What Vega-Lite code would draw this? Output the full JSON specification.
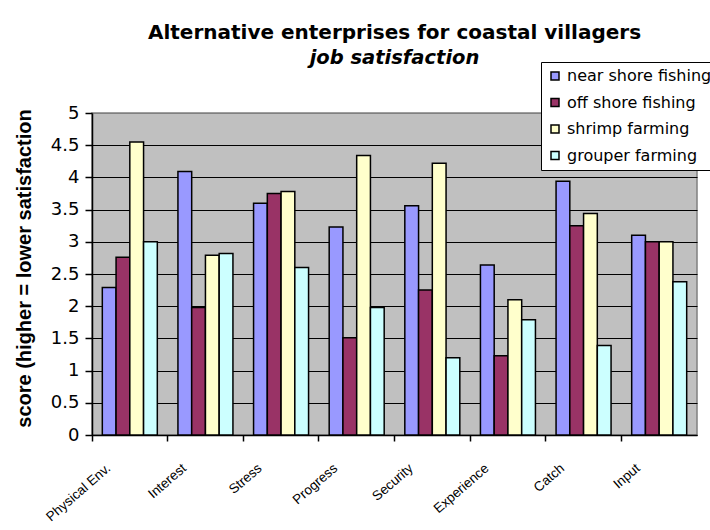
{
  "$schema": "https://vega.github.io/schema/vega-lite/v6.json",
  "width": 605,
  "height": 322,
  "autosize": {"type": "none"},
  "padding": {"left": 92, "top": 113, "right": 13, "bottom": 95},
  "background": "white",
  "title": {
    "text": "Alternative enterprises for coastal villagers",
    "subtitle": "job satisfaction",
    "font": "DejaVu Sans",
    "fontSize": 20,
    "fontWeight": "bold",
    "color": "black",
    "subtitleFont": "DejaVu Sans",
    "subtitleFontSize": 19.5,
    "subtitleFontWeight": "bold",
    "subtitleFontStyle": "italic",
    "subtitleColor": "black",
    "subtitlePadding": 6,
    "anchor": "middle",
    "frame": "group",
    "offset": -6
  },
  "data": {
    "values": [
      {"activity": "Physical Env.", "enterprise": "near shore fishing", "score": 2.29},
      {"activity": "Physical Env.", "enterprise": "off shore fishing", "score": 2.76},
      {"activity": "Physical Env.", "enterprise": "shrimp farming", "score": 4.55},
      {"activity": "Physical Env.", "enterprise": "grouper farming", "score": 3.0},
      {"activity": "Interest", "enterprise": "near shore fishing", "score": 4.09},
      {"activity": "Interest", "enterprise": "off shore fishing", "score": 1.98},
      {"activity": "Interest", "enterprise": "shrimp farming", "score": 2.79},
      {"activity": "Interest", "enterprise": "grouper farming", "score": 2.82},
      {"activity": "Stress", "enterprise": "near shore fishing", "score": 3.6},
      {"activity": "Stress", "enterprise": "off shore fishing", "score": 3.75},
      {"activity": "Stress", "enterprise": "shrimp farming", "score": 3.78},
      {"activity": "Stress", "enterprise": "grouper farming", "score": 2.6},
      {"activity": "Progress", "enterprise": "near shore fishing", "score": 3.23},
      {"activity": "Progress", "enterprise": "off shore fishing", "score": 1.51},
      {"activity": "Progress", "enterprise": "shrimp farming", "score": 4.34},
      {"activity": "Progress", "enterprise": "grouper farming", "score": 1.98},
      {"activity": "Security", "enterprise": "near shore fishing", "score": 3.56},
      {"activity": "Security", "enterprise": "off shore fishing", "score": 2.25},
      {"activity": "Security", "enterprise": "shrimp farming", "score": 4.22},
      {"activity": "Security", "enterprise": "grouper farming", "score": 1.2},
      {"activity": "Experience", "enterprise": "near shore fishing", "score": 2.64},
      {"activity": "Experience", "enterprise": "off shore fishing", "score": 1.23},
      {"activity": "Experience", "enterprise": "shrimp farming", "score": 2.1},
      {"activity": "Experience", "enterprise": "grouper farming", "score": 1.79},
      {"activity": "Catch", "enterprise": "near shore fishing", "score": 3.94},
      {"activity": "Catch", "enterprise": "off shore fishing", "score": 3.25},
      {"activity": "Catch", "enterprise": "shrimp farming", "score": 3.44},
      {"activity": "Catch", "enterprise": "grouper farming", "score": 1.39},
      {"activity": "Input", "enterprise": "near shore fishing", "score": 3.1},
      {"activity": "Input", "enterprise": "off shore fishing", "score": 3.0},
      {"activity": "Input", "enterprise": "shrimp farming", "score": 3.0},
      {"activity": "Input", "enterprise": "grouper farming", "score": 2.38}
    ]
  },
  "mark": {"type": "bar", "stroke": "black", "strokeWidth": 1.5},
  "encoding": {
    "x": {
      "field": "activity",
      "type": "nominal",
      "sort": ["Physical Env.", "Interest", "Stress", "Progress", "Security", "Experience", "Catch", "Input"],
      "scale": {"paddingInner": 0, "paddingOuter": 0},
      "axis": {
        "title": null,
        "bandPosition": 0,
        "labelAngle": -41,
        "labelAlign": "right",
        "labelBaseline": "middle",
        "labelOffset": -21,
        "labelPadding": 25,
        "labelFont": "Liberation Sans",
        "labelFontSize": 13.5,
        "labelColor": "black",
        "labelOverlap": false,
        "labelBound": false,
        "tickColor": "black",
        "tickSize": 6,
        "tickWidth": 1.5,
        "domainColor": "black",
        "domainWidth": 1.5,
        "grid": false
      }
    },
    "xOffset": {
      "field": "enterprise",
      "type": "nominal",
      "sort": ["near shore fishing", "off shore fishing", "shrimp farming", "grouper farming"],
      "scale": {"paddingInner": 0, "paddingOuter": 0.75}
    },
    "y": {
      "field": "score",
      "type": "quantitative",
      "scale": {"domain": [0, 5], "nice": false},
      "axis": {
        "title": "score (higher = lower satisfaction",
        "titleFont": "Liberation Sans",
        "titleFontSize": 20,
        "titleFontWeight": "bold",
        "titleColor": "black",
        "titlePadding": 16,
        "titleY": 155,
        "values": [0, 0.5, 1, 1.5, 2, 2.5, 3, 3.5, 4, 4.5, 5],
        "format": "~g",
        "labelFont": "DejaVu Sans",
        "labelFontSize": 18,
        "labelColor": "black",
        "labelPadding": 6,
        "tickColor": "black",
        "tickSize": 7,
        "tickWidth": 1.5,
        "domainColor": "black",
        "domainWidth": 1.5,
        "grid": true,
        "gridColor": {"condition": {"test": "datum.value >= 5", "value": "#808080"}, "value": "black"},
        "gridWidth": 1.2
      }
    },
    "color": {
      "field": "enterprise",
      "type": "nominal",
      "sort": ["near shore fishing", "off shore fishing", "shrimp farming", "grouper farming"],
      "scale": {
        "domain": ["near shore fishing", "off shore fishing", "shrimp farming", "grouper farming"],
        "range": ["#9999FF", "#993366", "#FFFFCC", "#CCFFFF"]
      },
      "legend": {
        "title": null,
        "orient": "none",
        "legendX": 449,
        "legendY": -51,
        "fillColor": "white",
        "strokeColor": "black",
        "padding": 6,
        "labelFont": "DejaVu Sans",
        "labelFontSize": 16,
        "labelColor": "black",
        "labelLimit": 300,
        "labelOffset": 4,
        "symbolType": "square",
        "symbolSize": 64,
        "symbolStrokeColor": "black",
        "symbolStrokeWidth": 1.5,
        "symbolOpacity": 1,
        "rowPadding": 10.5
      }
    }
  },
  "config": {
    "view": {"fill": "#C0C0C0", "stroke": "#808080", "strokeWidth": 1.5}
  }
}
